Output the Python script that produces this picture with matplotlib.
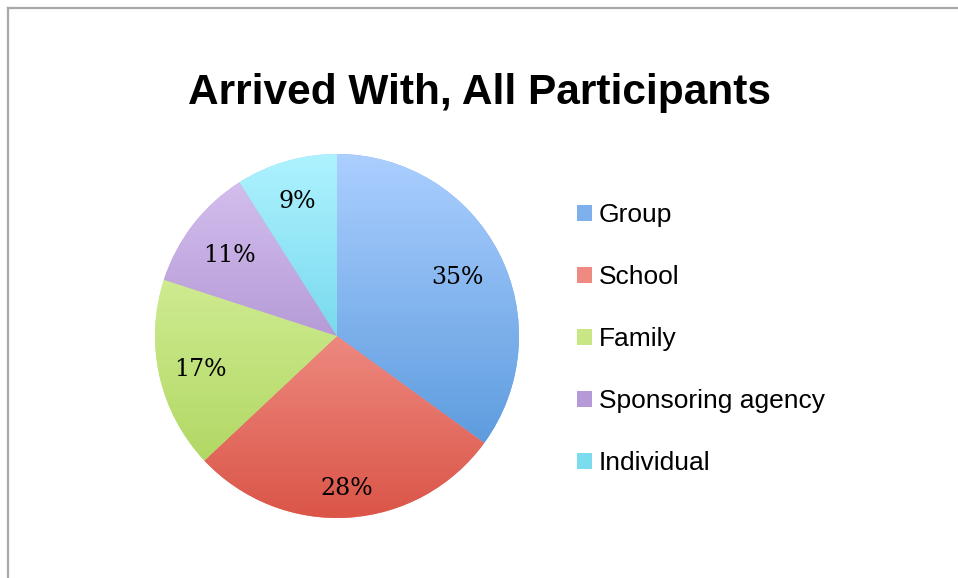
import numpy as np
import matplotlib.pyplot as plt
from matplotlib.colors import LinearSegmentedColormap
from matplotlib.patches import Patch
from matplotlib.lines import Line2D

categories = ["Group", "School", "Family", "Sponsoring agency", "Individual"]
shares = [35, 28, 17, 11, 9]
# light (top of pie) -> dark (bottom of pie)
top_colors = ["#abcfff", "#ffbcb6", "#e2f8b0", "#d8c4f2", "#aef2ff"]
bottom_colors = ["#4a8fd6", "#db5548", "#a9d256", "#9473bb", "#44c2dc"]
mid_colors = ["#7eb0ee", "#ee8a82", "#c9e685", "#b69ad8", "#7bdcee"]
label_dist = [0.745, 0.82, 0.767, 0.75, 0.79]

W, H = 958, 578
fig = plt.figure(figsize=(W / 100, H / 100), dpi=100)
fig.patch.set_facecolor("white")

# frame lines on top and left
fig.add_artist(Line2D([8 / W, 8 / W], [0, 1 - 8 / H], color="#a8a8a8", lw=1.6,
                      transform=fig.transFigure))
fig.add_artist(Line2D([8 / W, 1], [1 - 8 / H, 1 - 8 / H], color="#a8a8a8", lw=1.6,
                      transform=fig.transFigure))

fig.text(480 / W, 1 - 93 / H, "Arrived With, All Participants", ha="center", va="center",
         fontsize=30.5, fontweight="bold", family="Liberation Sans")

cx, cy, r = 337, 336, 182
ax = fig.add_axes([(cx - r) / W, (H - cy - r) / H, 2 * r / W, 2 * r / H])
wedges, texts, autotexts = ax.pie(
    shares, startangle=90, counterclock=False, colors=mid_colors,
    autopct="%d%%", pctdistance=0.78,
    textprops=dict(family="DejaVu Serif", fontsize=17, color="black"),
)
ax.set_xlim(-1, 1)
ax.set_ylim(-1, 1)
ax.set_aspect("equal")
ax.axis("off")

grad = np.linspace(0, 1, 256).reshape(-1, 1)
for w, c1, c2 in zip(wedges, top_colors, bottom_colors):
    cmap = LinearSegmentedColormap.from_list("g", [c1, c2])
    im = ax.imshow(grad, cmap=cmap, extent=(-1, 1, -1, 1), aspect="auto",
                   origin="upper", zorder=w.get_zorder() + 0.1)
    im.set_clip_path(w)

for w, t, d in zip(wedges, autotexts, label_dist):
    ang = np.deg2rad((w.theta1 + w.theta2) / 2)
    t.set_position((d * np.cos(ang), d * np.sin(ang) - 0.018))
    t.set_zorder(5)

handles = [Patch(facecolor=c, edgecolor="none") for c in mid_colors]
fig.legend(handles, categories, loc="upper left", bbox_to_anchor=(577 / W, 1 - 203 / H),
           frameon=False, prop=dict(family="Liberation Sans", size=19),
           handlelength=0.57, handleheight=0.57, handletextpad=0.25, labelspacing=1.44,
           borderpad=0, borderaxespad=0)

fig.savefig("out.png", dpi=100)
